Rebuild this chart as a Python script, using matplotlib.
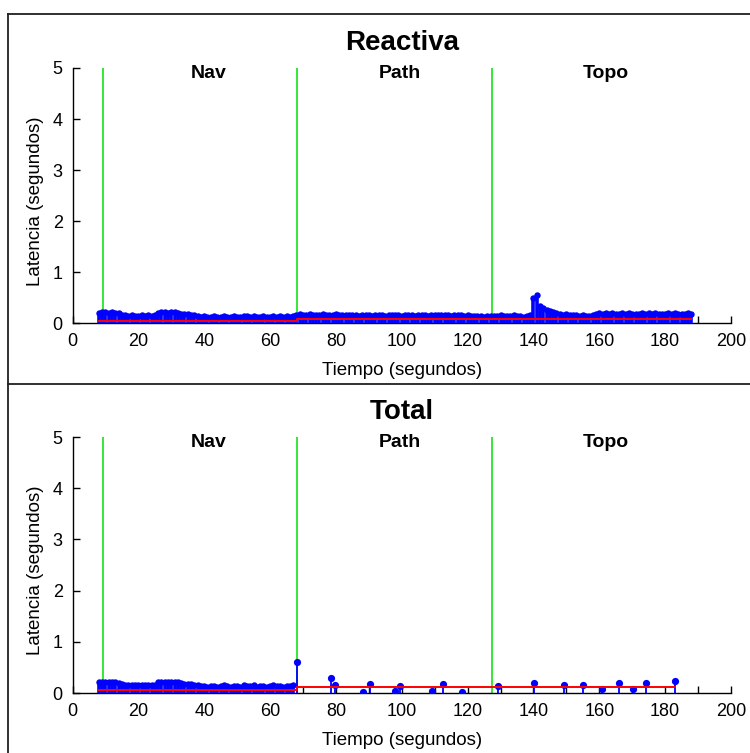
import numpy as np
import matplotlib
matplotlib.use("Agg")
import matplotlib.pyplot as plt
from matplotlib.lines import Line2D

plt.rcParams['font.family'] = ['Liberation Sans', 'DejaVu Sans']

# ---- data -------------------------------------------------------------
# Reactive-layer latency sampled once per second from t = 8 s to t = 188 s
reactiva_t0 = 8
reactiva = [
    # 8-14
    0.21, 0.22, 0.22, 0.21, 0.22, 0.21, 0.20,
    # 15-25
    0.17, 0.16, 0.15, 0.16, 0.15, 0.15, 0.16, 0.15, 0.16, 0.15, 0.16,
    # 26-32
    0.21, 0.22, 0.22, 0.21, 0.22, 0.22, 0.21,
    # 33-38
    0.19, 0.18, 0.18, 0.17, 0.16, 0.15,
    # 39-67
    0.13, 0.14, 0.12, 0.13, 0.14, 0.12, 0.13, 0.15, 0.13, 0.12, 0.14, 0.13,
    0.12, 0.15, 0.14, 0.13, 0.15, 0.12, 0.13, 0.14, 0.12, 0.13, 0.15, 0.13,
    0.14, 0.12, 0.14, 0.13, 0.15,
    # 68-84
    0.17, 0.18, 0.17, 0.16, 0.18, 0.17, 0.16, 0.17, 0.18, 0.17, 0.16, 0.17,
    0.18, 0.17, 0.16, 0.17, 0.16,
    # 85-119
    0.16, 0.17, 0.15, 0.16, 0.17, 0.16, 0.15, 0.16, 0.17, 0.16, 0.15, 0.16,
    0.17, 0.16, 0.16, 0.15, 0.16, 0.17, 0.16, 0.15, 0.16, 0.17, 0.16, 0.15,
    0.16, 0.17, 0.16, 0.16, 0.17, 0.16, 0.15, 0.16, 0.17, 0.16, 0.15,
    # 120-139
    0.16, 0.15, 0.14, 0.15, 0.14, 0.13, 0.14, 0.15, 0.14, 0.15, 0.16, 0.15,
    0.14, 0.15, 0.16, 0.15, 0.14, 0.13, 0.14, 0.16,
    # 140-147
    0.49, 0.56, 0.34, 0.30, 0.27, 0.24, 0.22, 0.20,
    # 148-158
    0.18, 0.17, 0.18, 0.16, 0.17, 0.16, 0.15, 0.16, 0.15, 0.15, 0.16,
    # 159-188
    0.19, 0.20, 0.19, 0.20, 0.19, 0.20, 0.19, 0.19, 0.20, 0.19, 0.20, 0.19,
    0.18, 0.19, 0.20, 0.19, 0.20, 0.19, 0.20, 0.19, 0.18, 0.19, 0.20, 0.19,
    0.20, 0.19, 0.18, 0.19, 0.20, 0.18,
]

# Total latency: dense during the Nav phase (same samples as the reactive
# layer), sparse afterwards
total_nav_count = 60
total_sparse_t = [68.2, 78.6, 79.6, 88.2, 90.4, 97.8, 99.5, 109.1, 112.5,
                  118.3, 129.1, 140.3, 149.4, 155.1, 160.7, 166.0, 170.1,
                  174.3, 183.0]
total_sparse_v = [0.61, 0.29, 0.16, 0.02, 0.18, 0.03, 0.13, 0.03, 0.18,
                  0.02, 0.13, 0.19, 0.16, 0.16, 0.08, 0.19, 0.08, 0.19,
                  0.24]

# Phase boundaries and names
phase_starts = [9.2, 68.3, 127.5]
phase_names = ['Nav', 'Path', 'Topo']
phase_label_x = [41.5, 99.5, 162.0]

# Mean latency levels (red step line)
reactiva_mean_t = [8.1, 68.2, 187.8]
reactiva_mean_v = [0.04, 0.09]
total_mean_t = [8.1, 68.2, 183.0]
total_mean_v = [0.05, 0.12]

# ---- figure -----------------------------------------------------------
W, H = 750, 753
fig = plt.figure(figsize=(W / 100, H / 100), dpi=100)
fig.patch.set_facecolor('white')


def px_rect(left, top, right, bottom):
    return [left / W, 1 - bottom / H, (right - left) / W, (bottom - top) / H]


ax_top = fig.add_axes(px_rect(72.5, 68, 731, 323.3))
ax_bot = fig.add_axes(px_rect(72.5, 437, 731, 693))


def step_xy(bounds, levels):
    xs, ys = [], []
    for i, lv in enumerate(levels):
        xs += [bounds[i], bounds[i + 1]]
        ys += [lv, lv]
    return xs, ys


def draw_stems(ax, t, v, lw, ms):
    ax.vlines(t, 0, v, colors='#0000ff', linewidth=lw, zorder=3)
    ax.plot(t, v, 'o', color='#0000ff', markersize=ms, markeredgewidth=0,
            zorder=4)


def style(ax, title):
    ax.set_xlim(0, 200)
    ax.set_ylim(0, 5)
    for s in ('top', 'right'):
        ax.spines[s].set_visible(False)
    for s in ('left', 'bottom'):
        ax.spines[s].set_linewidth(1.0)
        ax.spines[s].set_zorder(2)
    ax.set_xticks(np.arange(0, 201, 20))
    ax.set_xticks(np.arange(10, 200, 20), minor=True)
    ax.set_yticks(np.arange(0, 6, 1))
    ax.tick_params(which='both', direction='in', length=5, width=1,
                   labelsize=13, pad=7)
    ax.set_title(title, fontsize=20, fontweight='bold', pad=13)
    ax.set_xlabel('Tiempo (segundos)', fontsize=13.5)
    ax.set_ylabel('Latencia (segundos)', fontsize=13.5)
    ax.xaxis.set_label_coords(0.5, -0.152)
    ax.yaxis.set_label_coords(-0.043, 0.48)
    for x0 in phase_starts:
        ax.plot([x0, x0], [0, 5], color='#00e000', linewidth=1.1, zorder=1)
    for name, x in zip(phase_names, phase_label_x):
        ax.text(x, 4.9, name, ha='center', va='center', fontsize=14,
                fontweight='bold')


t_reac = np.arange(reactiva_t0, reactiva_t0 + len(reactiva))

# Reactiva panel
draw_stems(ax_top, t_reac, reactiva, 2.6, 4.6)
xs, ys = step_xy(reactiva_mean_t, reactiva_mean_v)
ax_top.plot(xs, ys, color='#ff0000', linewidth=1.4, zorder=5)
style(ax_top, 'Reactiva')

# Total panel
draw_stems(ax_bot, t_reac[:total_nav_count], reactiva[:total_nav_count],
           2.6, 4.6)
draw_stems(ax_bot, total_sparse_t, total_sparse_v, 1.3, 5.2)
xs, ys = step_xy(total_mean_t, total_mean_v)
ax_bot.plot(xs, ys, color='#ff0000', linewidth=1.4, zorder=5)
style(ax_bot, 'Total')

# Panel frames
frame_kw = dict(color='#202020', linewidth=1.3, transform=fig.transFigure)
fig.add_artist(Line2D([8 / W, 8 / W], [0, 1 - 14 / H], **frame_kw))
fig.add_artist(Line2D([8 / W, 1], [1 - 14 / H, 1 - 14 / H], **frame_kw))
fig.add_artist(Line2D([8 / W, 1], [1 - 384 / H, 1 - 384 / H], **frame_kw))

fig.savefig('out.png', dpi=100)
